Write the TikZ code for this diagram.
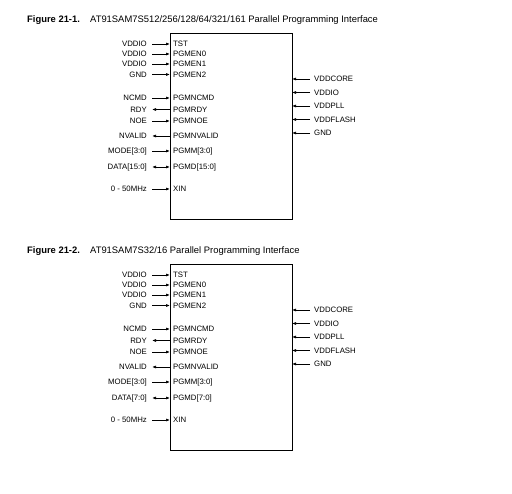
\documentclass[tikz,border=0pt]{standalone}
\usepackage{fontspec}
\setmainfont{Liberation Sans}
\usetikzlibrary{arrows.meta}
\tikzset{
  chipbox/.style={draw, line width=0.8pt, inner sep=0pt},
  pinlabel/.style={font=\fontsize{7.8}{9}\selectfont, inner sep=0pt, text height=5.6pt, text depth=0pt},
  figtitle/.style={font=\fontsize{9.4}{11}\selectfont, inner sep=0pt, anchor=base west},
  pinline/.style={line width=0.7pt},
  pinin/.style={->},
  pinout/.style={<-},
  pinbi/.style={<->},
  >={Latex[length=4pt,width=3pt]}
}

\begin{document}
\begin{tikzpicture}[x=1pt,y=-1pt]
  \useasboundingbox (0,0) rectangle (512,494);
  % Captions
  \node[figtitle] (fig1) at (27,22.5) {\bfseries Figure 21-1.};
  \node[figtitle] (cap1) at (90,22.5) {AT91SAM7S512/256/128/64/321/161 Parallel Programming Interface};
  \node[figtitle] (fig2) at (27,253.5) {\bfseries Figure 21-2.};
  \node[figtitle] (cap2) at (90,253.5) {AT91SAM7S32/16 Parallel Programming Interface};
  % The two interfaces
  \foreach \f/\dy/\bits in {1/0/15, 2/231/7} {
    \begin{scope}[shift={(0,\dy)}]
      \node[chipbox, minimum width=122pt, minimum height=186pt, anchor=north west] (chip\f) at (170,33) {};
      % Left pins
      \foreach \y/\pin/\sig/\tip [count=\i] in {
          44/TST/VDDIO/pinin, 54/PGMEN0/VDDIO/pinin, 64/PGMEN1/VDDIO/pinin,
          74.5/PGMEN2/GND/pinin, 98/PGMNCMD/NCMD/pinin, 109.5/PGMRDY/RDY/pinout,
          121/PGMNOE/NOE/pinin, 136/PGMNVALID/NVALID/pinout,
          151/{PGMM[3:0]}/{MODE[3:0]}/pinin, 167/{PGMD[\bits:0]}/{DATA[\bits:0]}/pinbi,
          189/XIN/{0 - 50MHz}/pinin} {
        \coordinate (in\f-\i) at (170,\y);
        \node[pinlabel, anchor=west] (pn\f-\i) at (173,\y) {\pin};
        \node[pinlabel, anchor=east] (sg\f-\i) at (147,\y) {\sig};
        \draw[pinline, \tip] ([xshift=5pt]sg\f-\i.east) -- (in\f-\i);
      }
      % Right pins - supplies
      \foreach \y/\sig [count=\i] in {79/VDDCORE, 92.5/VDDIO, 106/VDDPLL, 119.5/VDDFLASH, 133/GND} {
        \coordinate (pw\f-\i) at (292,\y);
        \node[pinlabel, anchor=west] (pr\f-\i) at (314,\y) {\sig};
        \draw[pinline, ->] ([xshift=-4pt]pr\f-\i.west) -- (pw\f-\i);
      }
    \end{scope}
  }
\end{tikzpicture}
\end{document}
